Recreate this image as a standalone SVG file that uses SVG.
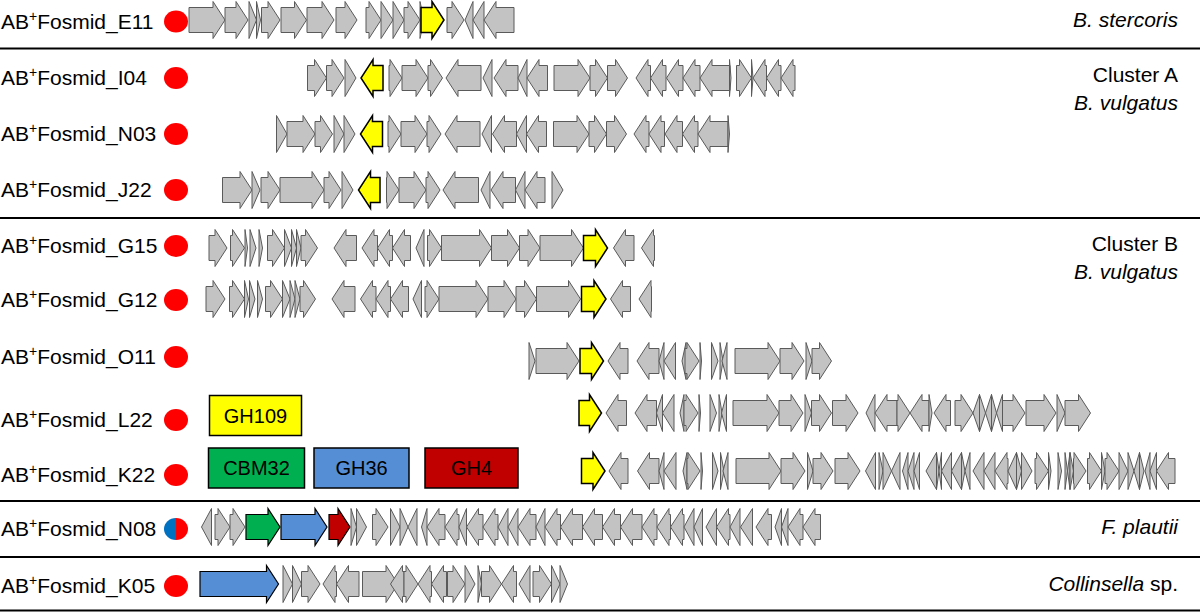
<svg xmlns="http://www.w3.org/2000/svg" width="1200" height="613" viewBox="0 0 1200 613">
<style>
text{font-family:"Liberation Sans",Arial,sans-serif;font-size:21px;fill:#000}
.it{font-style:italic}
.lbl{font-size:20px}
.g path,path.g{fill:#c3c3c3;stroke:#5a5a5a;stroke-width:1;stroke-linejoin:miter}
path.y{fill:#ffff00;stroke:#000;stroke-width:1.5}
path.gr{fill:#00b050;stroke:#000;stroke-width:1.2}
path.bl{fill:#558ed5;stroke:#000;stroke-width:1.2}
path.rd{fill:#c00000;stroke:#000;stroke-width:1.2}
.dot{fill:#ff0000}
.sep{stroke:#000;stroke-width:2}
.box{stroke:#000;stroke-width:1.5}
</style>
<g id="connectors">
<line class="sep" x1="0" y1="48.5" x2="1200" y2="48.5"/>
<line class="sep" x1="0" y1="218" x2="1200" y2="218"/>
<line class="sep" x1="0" y1="501" x2="1200" y2="501"/>
<line class="sep" x1="0" y1="557" x2="1200" y2="557"/>
<line class="sep" x1="0" y1="610.5" x2="1200" y2="610.5"/>
</g>

<g id="row-E11">
<text x="1" y="28.5">AB<tspan font-size="14" dy="-8">+</tspan><tspan dy="8">Fosmid_E11</tspan></text>
<ellipse class="dot" cx="176" cy="21.5" rx="12" ry="11"/>
<g class="g" transform="translate(0,20)">
<path d="M189 -12.5V12.5H213v6l12-18.5-12-18.5v6z"/>
<path d="M225 -12.5V12.5H236v6l12-18.5-12-18.5v6z"/>
<path d="M249 -18.5L256.5 0L249 18.5z"/>
<path d="M256.5 -18.5L260.5 0L256.5 18.5z"/>
<path d="M261.5 -12.5V12.5H268v6l12-18.5-12-18.5v6z"/>
<path d="M281 -12.5V12.5H294.5v6l12-18.5-12-18.5v6z"/>
<path d="M307 -12.5V12.5H322v6l12-18.5-12-18.5v6z"/>
<path d="M336 -12.5V12.5H345v6l12-18.5-12-18.5v6z"/>
<path d="M366 -12.5V12.5H369v6l12-18.5-12-18.5v6z"/>
<path d="M381 -18.5L393 0L381 18.5z"/>
<path d="M393 -18.5L404 0L393 18.5z"/>
<path d="M404 -12.5V12.5H408v6l12-18.5-12-18.5v6z"/>
<path d="M420 -18.5L424 0L420 18.5z"/>
<path class="y" d="M421 -12.5V12.5H432v6l12-18.5-12-18.5v6z"/>
<path d="M447 -12.5V12.5H452v6l12-18.5-12-18.5v6z"/>
<path d="M473 -18.5L465 0L473 18.5z"/>
<path d="M484 -18.5L473 0L484 18.5z"/>
<path d="M514 -12.5V12.5H496v6l-12-18.5 12-18.5v6z"/>
</g>
<text class="it" x="1178" y="27" text-anchor="end">B. stercoris</text>
</g>

<g id="row-I04">
<text x="1" y="85">AB<tspan font-size="14" dy="-8">+</tspan><tspan dy="8">Fosmid_I04</tspan></text>
<ellipse class="dot" cx="176" cy="78" rx="12" ry="11"/>
<g class="g" transform="translate(0,78)">
<path d="M307.5 -12.5V12.5H314.5v6l12-18.5-12-18.5v6z"/>
<path d="M326.5 -12.5V12.5H332v6l12-18.5-12-18.5v6z"/>
<path d="M345 -18.5L356 0L345 18.5z"/>
<path class="y" d="M383 -12.5V12.5H373v6l-12-18.5 12-18.5v6z"/>
<path d="M389 -12.5V12.5H390v6l12-18.5-12-18.5v6z"/>
<path d="M402 -12.5V12.5H416v6l12-18.5-12-18.5v6z"/>
<path d="M428 -12.5V12.5H430.5v6l12-18.5-12-18.5v6z"/>
<path d="M481 -12.5V12.5H458v6l-12-18.5 12-18.5v6z"/>
<path d="M492 -18.5L483 0L492 18.5z"/>
<path d="M518 -12.5V12.5H506v6l-12-18.5 12-18.5v6z"/>
<path d="M527 -18.5L518 0L527 18.5z"/>
<path d="M547.5 -12.5V12.5H539v6l-12-18.5 12-18.5v6z"/>
<path d="M554 -12.5V12.5H578v6l12-18.5-12-18.5v6z"/>
<path d="M590 -12.5V12.5H595.5v6l12-18.5-12-18.5v6z"/>
<path d="M607.5 -12.5V12.5H615.5v6l12-18.5-12-18.5v6z"/>
<path d="M650.5 -12.5V12.5H648v6l-12-18.5 12-18.5v6z"/>
<path d="M666 -12.5V12.5H662.5v6l-12-18.5 12-18.5v6z"/>
<path d="M683 -12.5V12.5H678.5v6l-12-18.5 12-18.5v6z"/>
<path d="M700 -12.5V12.5H695v6l-12-18.5 12-18.5v6z"/>
<path d="M730 -12.5V12.5H712v6l-12-18.5 12-18.5v6z"/>
<path d="M729.5 -18.5L731 0L729.5 18.5z"/>
<path d="M736.5 -12.5V12.5H739.5v6l12-18.5-12-18.5v6z"/>
<path d="M751.5 -18.5L753 0L751.5 18.5z"/>
<path d="M766.5 -12.5V12.5H765v6l-12-18.5 12-18.5v6z"/>
<path d="M781 -12.5V12.5H778.5v6l-12-18.5 12-18.5v6z"/>
<path d="M795 -12.5V12.5H793v6l-12-18.5 12-18.5v6z"/>
</g>
<text x="1178" y="82" text-anchor="end">Cluster A</text>
<text class="it" x="1178" y="110" text-anchor="end">B. vulgatus</text>
</g>

<g id="row-N03">
<text x="1" y="141">AB<tspan font-size="14" dy="-8">+</tspan><tspan dy="8">Fosmid_N03</tspan></text>
<ellipse class="dot" cx="176" cy="134" rx="12" ry="11"/>
<g class="g" transform="translate(0,134)">
<path d="M276.5 -18.5L287 0L276.5 18.5z"/>
<path d="M287 -12.5V12.5H303v6l12-18.5-12-18.5v6z"/>
<path d="M315 -12.5V12.5H320.5v6l12-18.5-12-18.5v6z"/>
<path d="M334 -18.5L344 0L334 18.5z"/>
<path d="M344 -18.5L355 0L344 18.5z"/>
<path class="y" d="M382.5 -12.5V12.5H372.5v6l-12-18.5 12-18.5v6z"/>
<path d="M388 -12.5V12.5H389v6l12-18.5-12-18.5v6z"/>
<path d="M401 -12.5V12.5H415v6l12-18.5-12-18.5v6z"/>
<path d="M427 -12.5V12.5H429v6l12-18.5-12-18.5v6z"/>
<path d="M480 -12.5V12.5H457v6l-12-18.5 12-18.5v6z"/>
<path d="M491.5 -18.5L482 0L491.5 18.5z"/>
<path d="M516.5 -12.5V12.5H504.5v6l-12-18.5 12-18.5v6z"/>
<path d="M526.5 -18.5L516.5 0L526.5 18.5z"/>
<path d="M546.5 -12.5V12.5H538.5v6l-12-18.5 12-18.5v6z"/>
<path d="M553.5 -12.5V12.5H577v6l12-18.5-12-18.5v6z"/>
<path d="M589 -12.5V12.5H594.5v6l12-18.5-12-18.5v6z"/>
<path d="M606.5 -12.5V12.5H614.5v6l12-18.5-12-18.5v6z"/>
<path d="M649 -12.5V12.5H646v6l-12-18.5 12-18.5v6z"/>
<path d="M664.5 -12.5V12.5H661v6l-12-18.5 12-18.5v6z"/>
<path d="M682.5 -12.5V12.5H677v6l-12-18.5 12-18.5v6z"/>
<path d="M698 -12.5V12.5H694.5v6l-12-18.5 12-18.5v6z"/>
<path d="M728 -12.5V12.5H710v6l-12-18.5 12-18.5v6z"/>
<path d="M728 -18.5L729.5 0L728 18.5z"/>
</g>
</g>

<g id="row-J22">
<text x="1" y="197">AB<tspan font-size="14" dy="-8">+</tspan><tspan dy="8">Fosmid_J22</tspan></text>
<ellipse class="dot" cx="176" cy="190" rx="12" ry="11"/>
<g class="g" transform="translate(0,190)">
<path d="M222.5 -12.5V12.5H240v6l12-18.5-12-18.5v6z"/>
<path d="M252 -18.5L260 0L252 18.5z"/>
<path d="M261 -12.5V12.5H268v6l12-18.5-12-18.5v6z"/>
<path d="M280 -12.5V12.5H312v6l12-18.5-12-18.5v6z"/>
<path d="M324 -12.5V12.5H329v6l12-18.5-12-18.5v6z"/>
<path d="M342 -18.5L353 0L342 18.5z"/>
<path class="y" d="M380 -12.5V12.5H370.5v6l-12-18.5 12-18.5v6z"/>
<path d="M386.5 -12.5V12.5H387v6l12-18.5-12-18.5v6z"/>
<path d="M399 -12.5V12.5H414v6l12-18.5-12-18.5v6z"/>
<path d="M426 -12.5V12.5H428v6l12-18.5-12-18.5v6z"/>
<path d="M478.5 -12.5V12.5H455v6l-12-18.5 12-18.5v6z"/>
<path d="M490 -18.5L481 0L490 18.5z"/>
<path d="M515.5 -12.5V12.5H503v6l-12-18.5 12-18.5v6z"/>
<path d="M525 -18.5L515.5 0L525 18.5z"/>
<path d="M545 -12.5V12.5H537v6l-12-18.5 12-18.5v6z"/>
<path d="M552 -18.5L563 0L552 18.5z"/>
</g>
</g>

<g id="row-G15">
<text x="1" y="253">AB<tspan font-size="14" dy="-8">+</tspan><tspan dy="8">Fosmid_G15</tspan></text>
<ellipse class="dot" cx="176" cy="246" rx="12" ry="11"/>
<g class="g" transform="translate(0,248)">
<path d="M209 -12.5V12.5H215v6l12-18.5-12-18.5v6z"/>
<path d="M230.5 -12.5V12.5H232.5v6l12-18.5-12-18.5v6z"/>
<path d="M245 -18.5L247.5 0L245 18.5z"/>
<path d="M250 -18.5L256 0L250 18.5z"/>
<path d="M259 -18.5L262.5 0L259 18.5z"/>
<path d="M267.5 -12.5V12.5H272.5v6l12-18.5-12-18.5v6z"/>
<path d="M284.5 -18.5L291.5 0L284.5 18.5z"/>
<path d="M291.5 -18.5L296.5 0L291.5 18.5z"/>
<path d="M296.5 -18.5L301 0L296.5 18.5z"/>
<path d="M301 -12.5V12.5H305.5v6l12-18.5-12-18.5v6z"/>
<path d="M356.5 -12.5V12.5H346v6l-12-18.5 12-18.5v6z"/>
<path d="M377.5 -12.5V12.5H374v6l-12-18.5 12-18.5v6z"/>
<path d="M392.5 -12.5V12.5H389.5v6l-12-18.5 12-18.5v6z"/>
<path d="M410.5 -12.5V12.5H404.5v6l-12-18.5 12-18.5v6z"/>
<path d="M424 -18.5L416 0L424 18.5z"/>
<path d="M427.5 -12.5V12.5H429.5v6l12-18.5-12-18.5v6z"/>
<path d="M441.5 -12.5V12.5H479.5v6l12-18.5-12-18.5v6z"/>
<path d="M491.5 -12.5V12.5H507.5v6l12-18.5-12-18.5v6z"/>
<path d="M519.5 -12.5V12.5H528v6l12-18.5-12-18.5v6z"/>
<path d="M540 -12.5V12.5H571.5v6l12-18.5-12-18.5v6z"/>
<path class="y" d="M583.5 -12.5V12.5H595.5v6l12-18.5-12-18.5v6z"/>
<path d="M634 -12.5V12.5H625.5v6l-12-18.5 12-18.5v6z"/>
<path d="M654.5 -12.5V12.5H653.5v6l-12-18.5 12-18.5v6z"/>
</g>
<text x="1178" y="251" text-anchor="end">Cluster B</text>
<text class="it" x="1178" y="279" text-anchor="end">B. vulgatus</text>
</g>

<g id="row-G12">
<text x="1" y="307">AB<tspan font-size="14" dy="-8">+</tspan><tspan dy="8">Fosmid_G12</tspan></text>
<ellipse class="dot" cx="176" cy="300" rx="12" ry="11"/>
<g class="g" transform="translate(0,299)">
<path d="M206 -12.5V12.5H213v6l12-18.5-12-18.5v6z"/>
<path d="M229.5 -12.5V12.5H232.5v6l12-18.5-12-18.5v6z"/>
<path d="M244.5 -18.5L248.5 0L244.5 18.5z"/>
<path d="M249.5 -18.5L255 0L249.5 18.5z"/>
<path d="M257.5 -18.5L262.5 0L257.5 18.5z"/>
<path d="M265.5 -12.5V12.5H270.5v6l12-18.5-12-18.5v6z"/>
<path d="M282.5 -18.5L290 0L282.5 18.5z"/>
<path d="M290 -18.5L295 0L290 18.5z"/>
<path d="M295 -18.5L300 0L295 18.5z"/>
<path d="M300 -12.5V12.5H303.5v6l12-18.5-12-18.5v6z"/>
<path d="M355 -12.5V12.5H344v6l-12-18.5 12-18.5v6z"/>
<path d="M376 -12.5V12.5H372.5v6l-12-18.5 12-18.5v6z"/>
<path d="M390.5 -12.5V12.5H388v6l-12-18.5 12-18.5v6z"/>
<path d="M408.5 -12.5V12.5H402.5v6l-12-18.5 12-18.5v6z"/>
<path d="M421.5 -18.5L413 0L421.5 18.5z"/>
<path d="M425 -12.5V12.5H427v6l12-18.5-12-18.5v6z"/>
<path d="M439 -12.5V12.5H476v6l12-18.5-12-18.5v6z"/>
<path d="M488 -12.5V12.5H504v6l12-18.5-12-18.5v6z"/>
<path d="M516 -12.5V12.5H524.5v6l12-18.5-12-18.5v6z"/>
<path d="M536.5 -12.5V12.5H568.5v6l12-18.5-12-18.5v6z"/>
<path class="y" d="M581.5 -12.5V12.5H594v6l12-18.5-12-18.5v6z"/>
<path d="M630.5 -12.5V12.5H622.5v6l-12-18.5 12-18.5v6z"/>
<path d="M651.5 -12.5V12.5H651v6l-12-18.5 12-18.5v6z"/>
</g>
</g>

<g id="row-O11">
<text x="1" y="364">AB<tspan font-size="14" dy="-8">+</tspan><tspan dy="8">Fosmid_O11</tspan></text>
<ellipse class="dot" cx="176" cy="357" rx="12" ry="11"/>
<g class="g" transform="translate(0,361)">
<path d="M529 -18.5L535 0L529 18.5z"/>
<path d="M536 -12.5V12.5H567v6l12-18.5-12-18.5v6z"/>
<path class="y" d="M580 -12.5V12.5H591.5v6l12-18.5-12-18.5v6z"/>
<path d="M628 -12.5V12.5H620v6l-12-18.5 12-18.5v6z"/>
<path d="M659 -12.5V12.5H649v6l-12-18.5 12-18.5v6z"/>
<path d="M664 -18.5L659 0L664 18.5z"/>
<path d="M675.5 -18.5L664 0L675.5 18.5z"/>
<path d="M686 -18.5L682 0L686 18.5z"/>
<path d="M685 -12.5V12.5H687v6l12-18.5-12-18.5v6z"/>
<path d="M700 -18.5L701.5 0L700 18.5z"/>
<path d="M711.5 -18.5L718 0L711.5 18.5z"/>
<path d="M720 -18.5L723 0L720 18.5z"/>
<path d="M727 -18.5L722 0L727 18.5z"/>
<path d="M735 -12.5V12.5H768v6l12-18.5-12-18.5v6z"/>
<path d="M780 -12.5V12.5H792v6l12-18.5-12-18.5v6z"/>
<path d="M806 -18.5L812 0L806 18.5z"/>
<path d="M812 -12.5V12.5H819.5v6l12-18.5-12-18.5v6z"/>
</g>
</g>

<g id="row-L22">
<text x="1" y="427">AB<tspan font-size="14" dy="-8">+</tspan><tspan dy="8">Fosmid_L22</tspan></text>
<ellipse class="dot" cx="176" cy="420" rx="12" ry="11"/>
<g class="g" transform="translate(0,413)">
<path class="y" d="M579 -12.5V12.5H589.5v6l12-18.5-12-18.5v6z"/>
<path d="M626.5 -12.5V12.5H618v6l-12-18.5 12-18.5v6z"/>
<path d="M656.5 -12.5V12.5H647v6l-12-18.5 12-18.5v6z"/>
<path d="M662.5 -18.5L656.5 0L662.5 18.5z"/>
<path d="M674 -18.5L662.5 0L674 18.5z"/>
<path d="M684 -18.5L680 0L684 18.5z"/>
<path d="M684 -12.5V12.5H686v6l12-18.5-12-18.5v6z"/>
<path d="M699 -18.5L700.5 0L699 18.5z"/>
<path d="M710 -18.5L716.5 0L710 18.5z"/>
<path d="M719 -18.5L722 0L719 18.5z"/>
<path d="M726.5 -18.5L721.5 0L726.5 18.5z"/>
<path d="M733 -12.5V12.5H767v6l12-18.5-12-18.5v6z"/>
<path d="M779 -12.5V12.5H791v6l12-18.5-12-18.5v6z"/>
<path d="M805 -18.5L811.5 0L805 18.5z"/>
<path d="M811.5 -12.5V12.5H819.5v6l12-18.5-12-18.5v6z"/>
<path d="M832.5 -12.5V12.5H846v6l12-18.5-12-18.5v6z"/>
<path d="M875 -18.5L866 0L875 18.5z"/>
<path d="M897 -12.5V12.5H887v6l-12-18.5 12-18.5v6z"/>
<path d="M897 -12.5V12.5H898v6l12-18.5-12-18.5v6z"/>
<path d="M929 -12.5V12.5H922v6l-12-18.5 12-18.5v6z"/>
<path d="M929 -18.5L932 0L929 18.5z"/>
<path d="M950.5 -12.5V12.5H946v6l-12-18.5 12-18.5v6z"/>
<path d="M955 -12.5V12.5H961v6l12-18.5-12-18.5v6z"/>
<path d="M979.5 -18.5L973 0L979.5 18.5z"/>
<path d="M979.5 -18.5L985.5 0L979.5 18.5z"/>
<path d="M991.5 -18.5L985.5 0L991.5 18.5z"/>
<path d="M991.5 -18.5L996.5 0L991.5 18.5z"/>
<path d="M1002.5 -18.5L996.5 0L1002.5 18.5z"/>
<path d="M1002.5 -12.5V12.5H1013v6l12-18.5-12-18.5v6z"/>
<path d="M1026 -12.5V12.5H1044v6l12-18.5-12-18.5v6z"/>
<path d="M1057 -18.5L1065 0L1057 18.5z"/>
<path d="M1065 -12.5V12.5H1078.5v6l12-18.5-12-18.5v6z"/>
</g>
</g>

<g id="row-K22">
<text x="1" y="482">AB<tspan font-size="14" dy="-8">+</tspan><tspan dy="8">Fosmid_K22</tspan></text>
<ellipse class="dot" cx="176" cy="475" rx="12" ry="11"/>
<g class="g" transform="translate(0,471)">
<path class="y" d="M581.5 -12.5V12.5H593v6l12-18.5-12-18.5v6z"/>
<path d="M628 -12.5V12.5H621v6l-12-18.5 12-18.5v6z"/>
<path d="M659 -12.5V12.5H649.5v6l-12-18.5 12-18.5v6z"/>
<path d="M664 -18.5L659 0L664 18.5z"/>
<path d="M676 -18.5L664 0L676 18.5z"/>
<path d="M687 -18.5L683 0L687 18.5z"/>
<path d="M687 -12.5V12.5H688v6l12-18.5-12-18.5v6z"/>
<path d="M701 -18.5L702.5 0L701 18.5z"/>
<path d="M712.5 -18.5L718 0L712.5 18.5z"/>
<path d="M720.5 -18.5L724 0L720.5 18.5z"/>
<path d="M728 -18.5L723 0L728 18.5z"/>
<path d="M736 -12.5V12.5H769v6l12-18.5-12-18.5v6z"/>
<path d="M781 -12.5V12.5H793v6l12-18.5-12-18.5v6z"/>
<path d="M807.5 -18.5L813 0L807.5 18.5z"/>
<path d="M813 -12.5V12.5H821v6l12-18.5-12-18.5v6z"/>
<path d="M835 -12.5V12.5H848v6l12-18.5-12-18.5v6z"/>
<path d="M875.5 -18.5L865.5 0L875.5 18.5z"/>
<path d="M879 -18.5L883 0L879 18.5z"/>
<path d="M883 -18.5L891.5 0L883 18.5z"/>
<path d="M900 -18.5L891.5 0L900 18.5z"/>
<path d="M908 -18.5L902.5 0L908 18.5z"/>
<path d="M914 -18.5L908 0L914 18.5z"/>
<path d="M919.5 -18.5L914 0L919.5 18.5z"/>
<path d="M936.5 -18.5L926 0L936.5 18.5z"/>
<path d="M936.5 -18.5L939 0L936.5 18.5z"/>
<path d="M941.5 -18.5L939 0L941.5 18.5z"/>
<path d="M951.5 -18.5L941.5 0L951.5 18.5z"/>
<path d="M961.5 -18.5L951.5 0L961.5 18.5z"/>
<path d="M961.5 -18.5L965 0L961.5 18.5z"/>
<path d="M970 -18.5L965 0L970 18.5z"/>
<path d="M984 -18.5L973 0L984 18.5z"/>
<path d="M995 -18.5L984 0L995 18.5z"/>
<path d="M1008 -12.5V12.5H1007v6l-12-18.5 12-18.5v6z"/>
<path d="M1016.5 -18.5L1008 0L1016.5 18.5z"/>
<path d="M1016.5 -18.5L1021.5 0L1016.5 18.5z"/>
<path d="M1021.5 -18.5L1032 0L1021.5 18.5z"/>
<path d="M1035 -12.5V12.5H1036.5v6l12-18.5-12-18.5v6z"/>
<path d="M1048.5 -18.5L1051 0L1048.5 18.5z"/>
<path d="M1058 -18.5L1061.5 0L1058 18.5z"/>
<path d="M1065 -18.5L1067.5 0L1065 18.5z"/>
<path d="M1070 -18.5L1067.5 0L1070 18.5z"/>
<path d="M1070 -18.5L1073.5 0L1070 18.5z"/>
<path d="M1073.5 -12.5V12.5H1074v6l12-18.5-12-18.5v6z"/>
<path d="M1087.5 -12.5V12.5H1089.5v6l12-18.5-12-18.5v6z"/>
<path d="M1101.5 -18.5L1105 0L1101.5 18.5z"/>
<path d="M1105 -12.5V12.5H1107v6l12-18.5-12-18.5v6z"/>
<path d="M1119 -18.5L1128 0L1119 18.5z"/>
<path d="M1128 -18.5L1134 0L1128 18.5z"/>
<path d="M1139.5 -18.5L1134 0L1139.5 18.5z"/>
<path d="M1139.5 -18.5L1144 0L1139.5 18.5z"/>
<path d="M1150 -18.5L1145 0L1150 18.5z"/>
<path d="M1156.5 -18.5L1150 0L1156.5 18.5z"/>
<path d="M1175 -12.5V12.5H1168.5v6l-12-18.5 12-18.5v6z"/>
</g>
</g>

<g id="legend">
<rect class="box" x="209.5" y="395.5" width="92" height="40" fill="#ffff00"/>
<text x="255.5" y="422.5" text-anchor="middle" class="lbl">GH109</text>
<rect class="box" x="208.5" y="448" width="96" height="40" fill="#00b050"/>
<text x="256.5" y="475" text-anchor="middle" class="lbl">CBM32</text>
<rect class="box" x="314" y="448" width="95" height="40" fill="#558ed5"/>
<text x="361.5" y="475" text-anchor="middle" class="lbl">GH36</text>
<rect class="box" x="425" y="448" width="93" height="40" fill="#c00000"/>
<text x="471.5" y="475" text-anchor="middle" class="lbl">GH4</text>
</g>

<g id="row-N08">
<text x="1" y="536">AB<tspan font-size="14" dy="-8">+</tspan><tspan dy="8">Fosmid_N08</tspan></text>
<path d="M176 518A12 11 0 0 0 176 540Z" fill="#0070c0"/>
<path d="M176 518A12 11 0 0 1 176 540Z" fill="#ff0000"/>
<g class="g" transform="translate(0,527)">
<path d="M211.5 -18.5L201.5 0L211.5 18.5z"/>
<path d="M215 -12.5V12.5H218v6l12-18.5-12-18.5v6z"/>
<path d="M230 -12.5V12.5H233v6l12-18.5-12-18.5v6z"/>
<path class="gr" d="M246 -12.5V12.5H268v6l12-18.5-12-18.5v6z"/>
<path class="bl" d="M281 -12.5V12.5H315v6l12-18.5-12-18.5v6z"/>
<path class="rd" d="M329 -12.5V12.5H338v6l12-18.5-12-18.5v6z"/>
<path d="M351 -18.5L356.5 0L351 18.5z"/>
<path d="M356.5 -18.5L366.5 0L356.5 18.5z"/>
<path d="M372.5 -12.5V12.5H376v6l12-18.5-12-18.5v6z"/>
<path d="M390.5 -18.5L400 0L390.5 18.5z"/>
<path d="M400 -18.5L408 0L400 18.5z"/>
<path d="M417 -18.5L408 0L417 18.5z"/>
<path d="M427 -18.5L421.5 0L427 18.5z"/>
<path d="M445 -12.5V12.5H439v6l-12-18.5 12-18.5v6z"/>
<path d="M459 -12.5V12.5H457v6l-12-18.5 12-18.5v6z"/>
<path d="M466.5 -18.5L459 0L466.5 18.5z"/>
<path d="M483 -12.5V12.5H478.5v6l-12-18.5 12-18.5v6z"/>
<path d="M498 -12.5V12.5H495v6l-12-18.5 12-18.5v6z"/>
<path d="M508 -18.5L498 0L508 18.5z"/>
<path d="M518 -18.5L508 0L518 18.5z"/>
<path d="M536 -12.5V12.5H530v6l-12-18.5 12-18.5v6z"/>
<path d="M545 -18.5L536 0L545 18.5z"/>
<path d="M560.5 -12.5V12.5H557v6l-12-18.5 12-18.5v6z"/>
<path d="M582.5 -12.5V12.5H572.5v6l-12-18.5 12-18.5v6z"/>
<path d="M602.5 -12.5V12.5H594.5v6l-12-18.5 12-18.5v6z"/>
<path d="M620.5 -12.5V12.5H614.5v6l-12-18.5 12-18.5v6z"/>
<path d="M642 -12.5V12.5H632.5v6l-12-18.5 12-18.5v6z"/>
<path d="M657 -12.5V12.5H654v6l-12-18.5 12-18.5v6z"/>
<path d="M670.5 -12.5V12.5H669v6l-12-18.5 12-18.5v6z"/>
<path d="M684 -12.5V12.5H682.5v6l-12-18.5 12-18.5v6z"/>
<path d="M694 -18.5L684 0L694 18.5z"/>
<path d="M702.5 -18.5L694 0L702.5 18.5z"/>
<path d="M716.5 -18.5L706 0L716.5 18.5z"/>
<path d="M730 -12.5V12.5H728.5v6l-12-18.5 12-18.5v6z"/>
<path d="M740 -18.5L730 0L740 18.5z"/>
<path d="M752.5 -18.5L740.5 0L752.5 18.5z"/>
<path d="M771.5 -12.5V12.5H768v6l-12-18.5 12-18.5v6z"/>
<path d="M781.5 -18.5L775 0L781.5 18.5z"/>
<path d="M788 -18.5L781.5 0L788 18.5z"/>
<path d="M803 -12.5V12.5H800v6l-12-18.5 12-18.5v6z"/>
<path d="M820.5 -12.5V12.5H815v6l-12-18.5 12-18.5v6z"/>
</g>
<text class="it" x="1178" y="534" text-anchor="end">F. plautii</text>
</g>

<g id="row-K05">
<text x="1" y="593">AB<tspan font-size="14" dy="-8">+</tspan><tspan dy="8">Fosmid_K05</tspan></text>
<ellipse class="dot" cx="176" cy="586" rx="12" ry="11"/>
<g class="g" transform="translate(0,584)">
<path class="bl" d="M200 -12.5V12.5H266.5v6l12-18.5-12-18.5v6z"/>
<path d="M283 -18.5L292.5 0L283 18.5z"/>
<path d="M292.5 -18.5L301.5 0L292.5 18.5z"/>
<path d="M301.5 -12.5V12.5H308v6l12-18.5-12-18.5v6z"/>
<path d="M336.5 -12.5V12.5H335v6l-12-18.5 12-18.5v6z"/>
<path d="M359 -12.5V12.5H348.5v6l-12-18.5 12-18.5v6z"/>
<path d="M362.5 -12.5V12.5H386v6l12-18.5-12-18.5v6z"/>
<path d="M404 -12.5V12.5H402.5v6l-12-18.5 12-18.5v6z"/>
<path d="M404 -12.5V12.5H406v6l12-18.5-12-18.5v6z"/>
<path d="M431.5 -12.5V12.5H430v6l-12-18.5 12-18.5v6z"/>
<path d="M446.5 -12.5V12.5H443.5v6l-12-18.5 12-18.5v6z"/>
<path d="M447.5 -12.5V12.5H453v6l12-18.5-12-18.5v6z"/>
<path d="M465 -18.5L475 0L465 18.5z"/>
<path d="M478 -18.5L481.5 0L478 18.5z"/>
<path d="M481.5 -12.5V12.5H489.5v6l12-18.5-12-18.5v6z"/>
<path d="M516.5 -12.5V12.5H513.5v6l-12-18.5 12-18.5v6z"/>
<path d="M530 -18.5L519 0L530 18.5z"/>
<path d="M533 -12.5V12.5H539.5v6l12-18.5-12-18.5v6z"/>
<path d="M551.5 -18.5L560 0L551.5 18.5z"/>
<path d="M560 -18.5L567.5 0L560 18.5z"/>
</g>
<text class="it" x="1178" y="591" text-anchor="end">Collinsella<tspan font-style="normal"> sp.</tspan></text>
</g>
</svg>
